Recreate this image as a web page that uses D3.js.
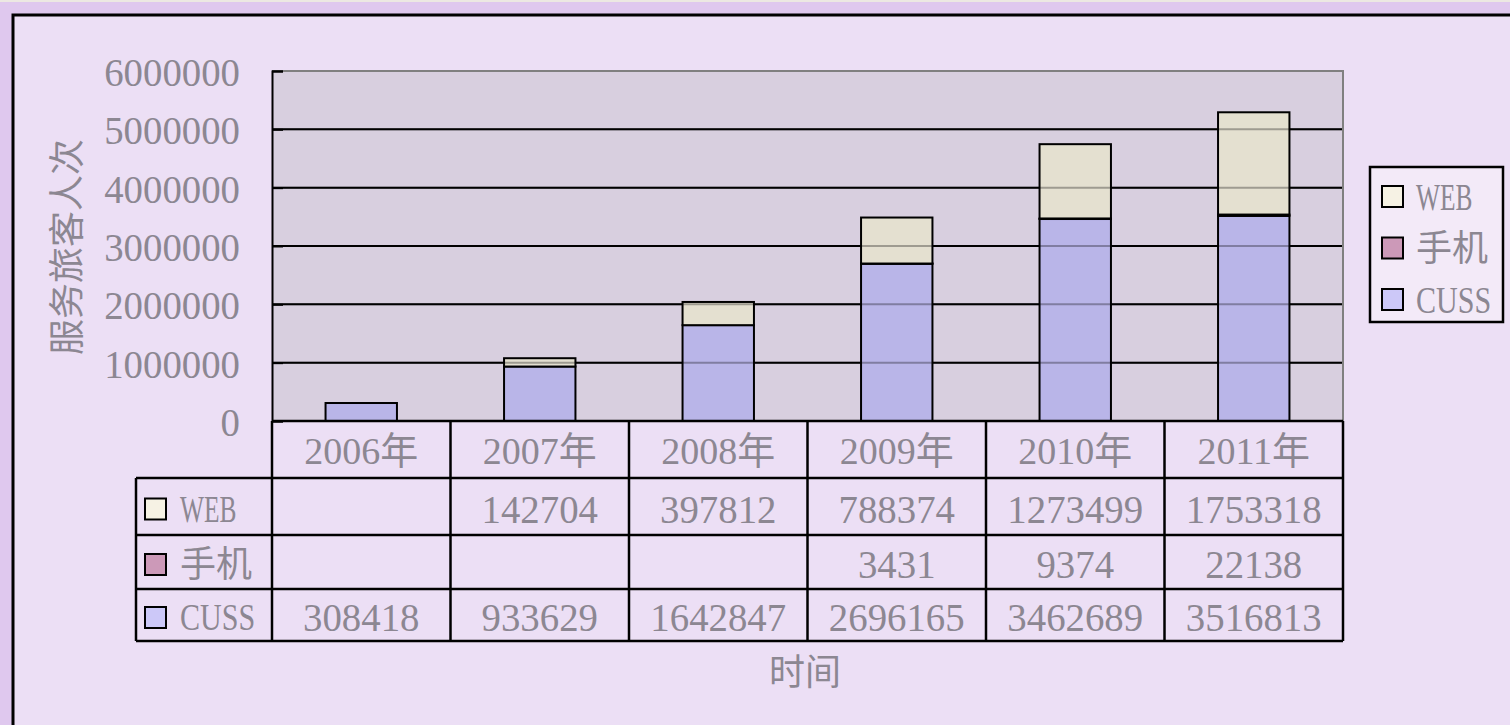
<!DOCTYPE html>
<html>
<head>
<meta charset="utf-8">
<script src="https://cdn.jsdelivr.net/npm/d3@7"></script>
<style>
  html, body { margin: 0; padding: 0; background: #dfc8ee; }
  svg { display: block; }
  text { fill: #8c8792; font-family: 'Liberation Serif', 'Noto Sans CJK SC', serif; }
  .cjk { font-family: 'Noto Sans CJK SC', sans-serif; }
</style>
</head>
<body>
<svg width="1510" height="725"></svg>
<script>
const years = ['2006年', '2007年', '2008年', '2009年', '2010年', '2011年']
const seriesNames = ['CUSS', '手机', 'WEB']
const cussValues = [308418, 933629, 1642847, 2696165, 3462689, 3516813]
const mobileValues = [null, null, null, 3431, 9374, 22138]
const webValues = [null, 142704, 397812, 788374, 1273499, 1753318]
const yTicks = [0, 1000000, 2000000, 3000000, 4000000, 5000000, 6000000]

const barColors = { CUSS: '#b9b5e8', 手机: '#b07fa0', WEB: '#e4e0d0' }
const keyColors = { CUSS: '#ccc8f8', 手机: '#cc99b8', WEB: '#f6f2e4' }

// narrow, tall latin text like the original's half-width glyphs
const narrow = (sel, str, size = 41, per = 19.4) => sel
  .attr('font-size', size)
  .attr('textLength', String(str).length * per)
  .attr('lengthAdjust', 'spacingAndGlyphs')

const svg = d3.select('svg')

// outer frame
svg.append('rect').attr('x', 0).attr('y', 0).attr('width', 1510).attr('height', 2).attr('fill', '#ece8e2')
svg.append('rect')
  .attr('x', 13).attr('y', 15).attr('width', 1520).attr('height', 740)
  .attr('fill', '#ecdff5').attr('stroke', 'black').attr('stroke-width', 3)

const plot = { left: 272, right: 1343, top: 71, bottom: 421 }

const xScale = d3.scaleBand()
  .domain(years)
  .range([plot.left, plot.right])

const yScale = d3.scaleLinear()
  .domain([0, 6000000])
  .range([plot.bottom, plot.top])

// plot background
svg.append('rect')
  .attr('x', plot.left).attr('y', plot.top)
  .attr('width', plot.right - plot.left).attr('height', plot.bottom - plot.top)
  .attr('fill', '#d8cfdf')

const drawGrid = (opacity) => {
  svg.append('g').selectAll('line').data(yTicks.slice(1, -1)).join('line')
    .attr('x1', plot.left).attr('x2', plot.right)
    .attr('y1', d => yScale(d)).attr('y2', d => yScale(d))
    .attr('stroke', 'black').attr('stroke-width', 2).attr('opacity', opacity)
}
drawGrid(1)

// stacked bars
const rows = years.map((y, i) => ({
  year: y, CUSS: cussValues[i] || 0, 手机: mobileValues[i] || 0, WEB: webValues[i] || 0
}))
const stacked = d3.stack().keys(seriesNames)(rows)
const barW = xScale.bandwidth() * 0.4

svg.append('g').selectAll('g').data(stacked).join('g')
  .attr('fill', d => barColors[d.key])
  .selectAll('rect').data(d => d.filter(p => p[1] > p[0])).join('rect')
  .attr('x', d => xScale(d.data.year) + (xScale.bandwidth() - barW) / 2)
  .attr('width', barW)
  .attr('y', d => yScale(d[1]))
  .attr('height', d => yScale(d[0]) - yScale(d[1]))
  .attr('stroke', 'black').attr('stroke-width', 2)

// faint grid visible through bars
drawGrid(0.3)

// plot border (gray top/right)
svg.append('path')
  .attr('d', `M${plot.left},${plot.top}H${plot.right}V${plot.bottom}`)
  .attr('fill', 'none').attr('stroke', '#808080').attr('stroke-width', 2)

// y axis
const yAxis = d3.axisLeft(yScale).tickValues(yTicks).tickSize(-11).tickFormat(d3.format('d')).tickPadding(32)
const yg = svg.append('g').attr('transform', `translate(${plot.left},0)`).call(yAxis)
yg.select('.domain').attr('stroke', 'black').attr('stroke-width', 2)
yg.selectAll('.tick line').attr('stroke', 'black').attr('stroke-width', 2)
yg.selectAll('.tick text')
  .attr('fill', '#8c8792')
  .attr('font-family', 'Liberation Serif').attr('dy', '0.35em')
  .each(function (d) { narrow(d3.select(this), d) })

svg.append('text')
  .attr('class', 'cjk')
  .attr('transform', `translate(80,247) rotate(-90)`)
  .attr('text-anchor', 'middle')
  .attr('font-size', 36)
  .text('服务旅客人次')

// data table
const tableRows = [
  { name: 'WEB', values: webValues, top: 478, bottom: 535 },
  { name: '手机', values: mobileValues, top: 535, bottom: 589 },
  { name: 'CUSS', values: cussValues, top: 589, bottom: 641 }
]
const tableLeft = 136
const table = svg.append('g')

table.append('line').attr('x1', plot.left).attr('x2', plot.right)
  .attr('y1', plot.bottom).attr('y2', plot.bottom)
table.selectAll('line.h').data(tableRows).join('line').attr('class', 'h')
  .attr('x1', tableLeft).attr('x2', plot.right)
  .attr('y1', d => d.top).attr('y2', d => d.top)
table.append('line').attr('x1', tableLeft).attr('x2', plot.right)
  .attr('y1', 641).attr('y2', 641)
const colEdges = years.map(y => xScale(y)).concat([plot.right])
table.selectAll('line.v').data(colEdges).join('line').attr('class', 'v')
  .attr('x1', d => d).attr('x2', d => d)
  .attr('y1', plot.bottom).attr('y2', 641)
table.append('line').attr('x1', tableLeft).attr('x2', tableLeft)
  .attr('y1', 478).attr('y2', 641)
table.selectAll('line').attr('stroke', 'black').attr('stroke-width', 2.5)

// category labels
table.selectAll('text.cat').data(years).join('text').attr('class', 'cat')
  .attr('x', d => xScale(d) + xScale.bandwidth() / 2)
  .attr('y', 451).attr('dy', '0.35em')
  .attr('text-anchor', 'middle').attr('font-size', 38)
  .text(d => d)

// table values
tableRows.forEach(r => {
  const cy = (r.top + r.bottom) / 2 + 2
  table.selectAll(null).data(years.map((y, i) => ({ y, v: r.values[i] })).filter(d => d.v != null))
    .join('text')
    .attr('x', d => xScale(d.y) + xScale.bandwidth() / 2)
    .attr('y', cy).attr('dy', '0.35em')
    .attr('text-anchor', 'middle')
    .text(d => d.v)
    .each(function (d) { narrow(d3.select(this), d.v) })
  table.append('rect')
    .attr('x', 145).attr('y', cy - 10).attr('width', 21).attr('height', 21)
    .attr('fill', keyColors[r.name]).attr('stroke', 'black').attr('stroke-width', 2)
  const t = table.append('text')
    .attr('x', 180).attr('y', cy).attr('dy', '0.35em')
    .attr('font-size', 36)
    .text(r.name)
  if (r.name === '手机') t.attr('class', 'cjk')
  else narrow(t, r.name, 38, 18.8)
})

// x axis title
svg.append('text').attr('class', 'cjk')
  .attr('x', 805).attr('y', 672).attr('dy', '0.35em')
  .attr('text-anchor', 'middle').attr('font-size', 36)
  .text('时间')

// legend
const legend = svg.append('g')
legend.append('rect')
  .attr('x', 1370).attr('y', 167).attr('width', 133).attr('height', 155)
  .attr('fill', '#f3eaf8').attr('stroke', 'black').attr('stroke-width', 2.5)
const legendItems = ['WEB', '手机', 'CUSS']
const legendY = d3.scalePoint().domain(legendItems).range([197, 300])
legendItems.forEach(name => {
  const cy = legendY(name)
  legend.append('rect')
    .attr('x', 1382).attr('y', cy - 11).attr('width', 21).attr('height', 21)
    .attr('fill', keyColors[name]).attr('stroke', 'black').attr('stroke-width', 2)
  const t = legend.append('text')
    .attr('x', 1416).attr('y', cy).attr('dy', '0.35em')
    .attr('font-size', 36)
    .text(name)
  if (name === '手机') t.attr('class', 'cjk')
  else narrow(t, name, 38, 18.8)
})
</script>
</body>
</html>
